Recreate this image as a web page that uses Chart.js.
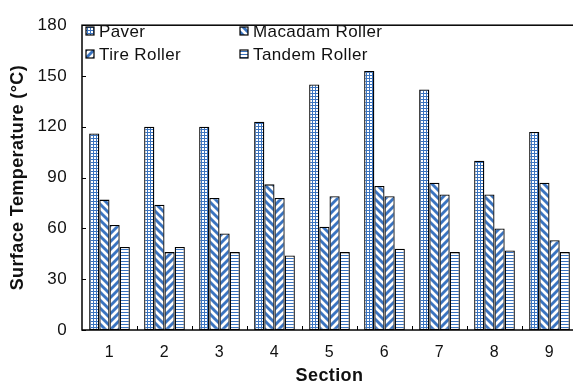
<!DOCTYPE html>
<html>
<head>
<meta charset="utf-8">
<script src="https://cdn.jsdelivr.net/npm/chart.js@4/dist/chart.umd.min.js"></script>
<style>
  html, body { margin: 0; padding: 0; background: #fff; overflow: hidden; }
  #wrap { width: 573px; height: 390px; overflow: hidden; }
  canvas { display: block; }
</style>
</head>
<body>
<div id="wrap"><canvas id="c" width="577" height="390"></canvas></div>
<script>
// Surface temperature by construction stage for each test section
const sections = ['1', '2', '3', '4', '5', '6', '7', '8', '9'];
const paver   = [116, 120, 120, 123, 145, 153, 142, 100, 117];
const macadam = [77, 74, 78, 86, 61, 85, 87, 80, 87];
const tire    = [62, 46, 57, 78, 79, 79, 80, 60, 53];
const tandem  = [49, 49, 46, 44, 46, 48, 46, 47, 46];
const seriesNames = ['Paver', 'Macadam Roller', 'Tire Roller', 'Tandem Roller'];
const yTicks = [0, 30, 60, 90, 120, 150, 180];

const BLUE = '#3b74c0';
const FONT = "'Liberation Sans', Arial, sans-serif";

// hatch fills
function makePattern(kind) {
  const size = (kind === 'grid' || kind === 'hlines') ? 3 : 8;
  const c = document.createElement('canvas');
  c.width = size; c.height = size;
  const g = c.getContext('2d');
  g.fillStyle = '#fff';
  g.fillRect(0, 0, size, size);
  g.strokeStyle = BLUE;
  g.fillStyle = BLUE;
  if (kind === 'grid') {
    g.fillRect(0, 0, size, 1);
    g.fillRect(0, 0, 1, size);
  } else if (kind === 'hlines') {
    g.fillRect(0, 0, size, 1);
  } else {
    g.lineWidth = 2.9;
    g.beginPath();
    for (let k = -1; k <= 1; k++) {
      const o = k * size;
      if (kind === 'down') {
        g.moveTo(o - 2, -2); g.lineTo(o + size + 2, size + 2);
      } else {
        g.moveTo(o - 2, size + 2); g.lineTo(o + size + 2, -2);
      }
    }
    g.stroke();
  }
  return g.createPattern(c, 'repeat');
}

const fills = [makePattern('grid'), makePattern('down'), makePattern('up'), makePattern('hlines')];
const values = [paver, macadam, tire, tandem];

// text spacing for every label drawn on the canvas
const spacing = {
  id: 'spacing',
  beforeDraw(chart) { chart.ctx.letterSpacing = '0.4px'; }
};

// frame, inside tick marks and the in-plot legend
const decorations = {
  id: 'decorations',
  afterDatasetsDraw(chart) {
    const { ctx, chartArea: a, scales } = chart;
    ctx.save();
    ctx.strokeStyle = '#000';
    ctx.lineWidth = 1.5;
    ctx.strokeRect(a.left, a.top, a.right - a.left, a.bottom - a.top);

    ctx.lineWidth = 1;
    ctx.beginPath();
    yTicks.forEach(v => {
      const y = Math.round(scales.y.getPixelForValue(v)) + 0.5;
      ctx.moveTo(a.left, y); ctx.lineTo(a.left + 4, y);
    });
    const n = sections.length;
    for (let i = 1; i < n; i++) {
      const x = Math.round((scales.x.getPixelForValue(i - 1) + scales.x.getPixelForValue(i)) / 2) + 0.5;
      ctx.moveTo(x, a.bottom); ctx.lineTo(x, a.bottom - 4);
    }
    ctx.stroke();

    // legend, two columns inside the plot
    const spots = [[86, 31], [240, 31], [86, 54], [240, 54]];
    ctx.font = '17px ' + FONT;
    ctx.letterSpacing = '0.4px';
    ctx.textBaseline = 'middle';
    spots.forEach(([x, y], i) => {
      ctx.fillStyle = fills[i];
      ctx.fillRect(x, y - 4, 8, 8);
      ctx.strokeStyle = '#000';
      ctx.lineWidth = 1.2;
      ctx.strokeRect(x, y - 4, 8, 8);
      ctx.fillStyle = '#111';
      ctx.fillText(seriesNames[i], x + 13, y + 1);
    });
    ctx.restore();
  }
};

new Chart(document.getElementById('c'), {
  type: 'bar',
  data: {
    labels: sections,
    datasets: seriesNames.map((name, i) => ({
      label: name,
      data: values[i],
      backgroundColor: fills[i],
      borderColor: '#000',
      borderWidth: 1.3,
      borderSkipped: false,
      categoryPercentage: 0.74,
      barPercentage: 1.0
    }))
  },
  options: {
    responsive: false,
    animation: false,
    layout: { padding: { top: 16, right: 0, left: 0, bottom: 0 } },
    plugins: { legend: { display: false }, tooltip: { enabled: false } },
    scales: {
      x: {
        grid: { display: false, drawTicks: false },
        border: { display: false },
        ticks: { color: '#111', font: { family: FONT, size: 16 }, padding: 13 },
        title: { display: true, text: 'Section', color: '#111', font: { family: FONT, size: 18, weight: 'bold' }, padding: { bottom: 3 } },
        afterFit(s) { s.height = 60; }
      },
      y: {
        min: 0, max: 180,
        afterBuildTicks(s) { s.ticks = yTicks.map(v => ({ value: v })); },
        grid: { display: false, drawTicks: false },
        border: { display: false },
        ticks: { color: '#111', font: { family: FONT, size: 17 }, padding: 15 },
        title: { display: true, text: 'Surface Temperature (°C)', color: '#111', font: { family: FONT, size: 18, weight: 'bold' }, padding: { top: 7 } },
        afterFit(s) { s.width = 82; }
      }
    }
  },
  plugins: [spacing, decorations]
});
</script>
</body>
</html>
